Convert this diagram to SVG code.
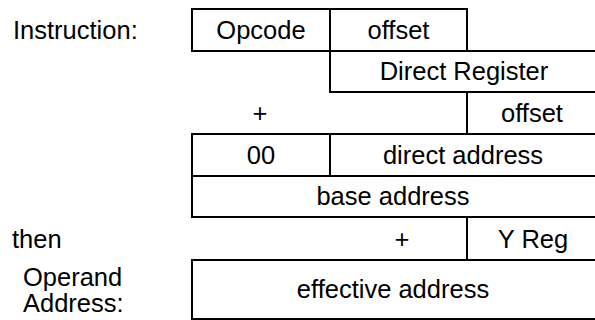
<svg xmlns="http://www.w3.org/2000/svg" width="595" height="320" viewBox="0 0 595 320">
<style>
text{font-family:"Liberation Sans",Arial,sans-serif;font-size:25.5px;fill:#000}
.c{text-anchor:middle}
.b{fill:none;stroke:#000;stroke-width:2}
</style>
<rect width="595" height="320" fill="#fff"/>
<g id="labels">
<text x="13" y="39">Instruction:</text>
<text x="12" y="248">then</text>
<text x="23" y="286">Operand</text>
<text x="23" y="312">Address:</text>
</g>
<g id="instruction">
<rect class="b" x="192" y="9" width="275" height="42"/>
<line class="b" x1="330" y1="9" x2="330" y2="51"/>
<text class="c" x="261" y="39">Opcode</text>
<text class="c" x="398.5" y="39">offset</text>
</g>
<g id="direct-register">
<rect class="b" x="330" y="51" width="270" height="41"/>
<text class="c" x="464" y="80">Direct Register</text>
</g>
<g id="offset-row">
<line class="b" x1="467" y1="92" x2="467" y2="134"/>
<text class="c" x="260" y="122">+</text>
<text class="c" x="532" y="122">offset</text>
</g>
<g id="direct-address">
<rect class="b" x="192" y="134" width="408" height="42"/>
<line class="b" x1="330" y1="134" x2="330" y2="176"/>
<text class="c" x="261" y="164">00</text>
<text class="c" x="463" y="164">direct address</text>
</g>
<g id="base-address">
<rect class="b" x="192" y="176" width="408" height="41"/>
<text class="c" x="393" y="205">base address</text>
</g>
<g id="yreg-row">
<line class="b" x1="467" y1="217" x2="467" y2="260"/>
<text class="c" x="402" y="248">+</text>
<text class="c" x="533" y="248">Y Reg</text>
</g>
<g id="effective-address">
<rect class="b" x="192" y="260" width="408" height="59"/>
<text class="c" x="393" y="298">effective address</text>
</g>
<g id="connectors"></g>
</svg>
